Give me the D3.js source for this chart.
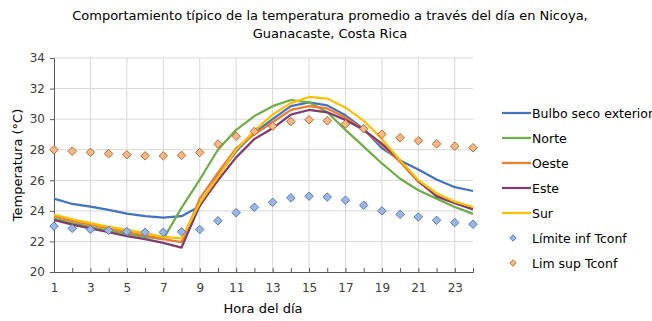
<!DOCTYPE html>
<html><head><meta charset="utf-8">
<script src="https://cdn.jsdelivr.net/npm/d3@7"></script>
<style>body{margin:0;background:#fff}svg{display:block;font-family:"DejaVu Sans",Verdana,sans-serif}</style>
</head><body><svg id="c" width="652" height="321"></svg>
<script>
const hours = d3.range(1, 25);
const xTickLabels = [1,3,5,7,9,11,13,15,17,19,21,23];
const yTickLabels = [20,22,24,26,28,30,32,34];
const bulbo = [24.8,24.45,24.27,24.07,23.82,23.65,23.55,23.65,24.3,26.3,27.9,29.1,30.0,30.85,31.1,30.9,30.25,29.35,28.1,27.3,26.7,26.05,25.55,25.3];
const norte = [23.5,23.2,22.95,22.7,22.5,22.3,22.15,24.2,26.05,28.0,29.3,30.2,30.85,31.25,31.1,30.45,29.3,28.2,27.1,26.1,25.35,24.8,24.25,23.8];
const oeste = [23.65,23.35,23.1,22.85,22.6,22.4,22.15,21.95,24.8,26.5,28.1,29.0,29.8,30.6,30.85,30.7,30.1,29.3,28.3,27.2,25.9,25.05,24.55,24.15];
const este = [23.4,23.1,22.85,22.6,22.35,22.15,21.9,21.6,24.35,26.0,27.5,28.7,29.4,30.3,30.6,30.45,29.95,29.3,28.4,27.3,25.95,24.95,24.5,24.1];
const sur = [23.75,23.45,23.2,22.95,22.75,22.55,22.3,22.2,24.5,26.2,28.0,29.25,30.3,31.05,31.45,31.35,30.75,29.9,28.7,27.3,26.0,25.15,24.6,24.25];
const limInf = [23.0,22.85,22.78,22.72,22.65,22.6,22.6,22.63,22.78,23.35,23.88,24.24,24.56,24.85,24.96,24.9,24.7,24.36,24.0,23.77,23.6,23.38,23.23,23.12];
const limSup = [28.0,27.9,27.83,27.74,27.67,27.6,27.6,27.63,27.82,28.37,28.88,29.2,29.55,29.84,29.96,29.89,29.68,29.37,29.01,28.78,28.59,28.38,28.23,28.13];

const lineSeries = [
  {name:"Bulbo seco exterior", values:bulbo, color:"#4472C4"},
  {name:"Norte", values:norte, color:"#70AD47"},
  {name:"Oeste", values:oeste, color:"#ED7D31"},
  {name:"Este", values:este, color:"#7E3D6E"},
  {name:"Sur", values:sur, color:"#FFC000"}
];
const pointSeries = [
  {name:"Límite inf Tconf", values:limInf, fill:"#9DB5E0", stroke:"#4472C4"},
  {name:"Lim sup Tconf", values:limSup, fill:"#F4B98E", stroke:"#C55A11"}
];

const svg = d3.select("#c");
const x = d3.scaleLinear().domain([1,24]).range([54,473]);
const y = d3.scaleLinear().domain([20,34]).range([272,58]);

// gridlines
svg.append("g").selectAll("line").data(yTickLabels.filter(v=>v>20)).join("line")
  .attr("x1",x(1)).attr("x2",x(24)).attr("y1",d=>y(d)).attr("y2",d=>y(d))
  .attr("stroke","#D9D9D9").attr("stroke-width",1);
svg.append("g").selectAll("line").data(xTickLabels.filter(v=>v>1)).join("line")
  .attr("x1",d=>x(d)).attr("x2",d=>x(d)).attr("y1",y(20)).attr("y2",y(34))
  .attr("stroke","#D9D9D9").attr("stroke-width",1);

// axes
const xAxis = d3.axisBottom(x).tickValues(hours).tickSize(-4).tickFormat(d=>xTickLabels.includes(d)?d:"").tickPadding(11);
const gx = svg.append("g").attr("transform",`translate(0,${y(20)})`).call(xAxis);
gx.select(".domain").attr("stroke","#595959");
gx.selectAll(".tick line").attr("stroke","#595959");
gx.selectAll("text").attr("font-size",12).attr("fill","#404040").attr("font-family","DejaVu Sans, sans-serif");

const yAxis = d3.axisLeft(y).tickValues(yTickLabels).tickSize(4).tickPadding(5);
const gy = svg.append("g").attr("transform",`translate(${x(1)},0)`).call(yAxis);
gy.select(".domain").attr("stroke","#595959");
gy.selectAll(".tick line").attr("stroke","#595959");
gy.selectAll("text").attr("font-size",12).attr("fill","#404040").attr("font-family","DejaVu Sans, sans-serif");

// lines
const line = d3.line().x((d,i)=>x(hours[i])).y(d=>y(d));
lineSeries.forEach(s=>{
  svg.append("path").datum(s.values).attr("d",line)
    .attr("fill","none").attr("stroke",s.color).attr("stroke-width",2.25).attr("stroke-linejoin","round");
});
// diamonds
const diamond = d3.symbol().type(d3.symbolDiamond2).size(46);
pointSeries.forEach(s=>{
  svg.append("g").selectAll("path").data(s.values).join("path")
    .attr("d",diamond)
    .attr("transform",(d,i)=>`translate(${x(hours[i])},${y(d)})`)
    .attr("fill",s.fill).attr("stroke",s.stroke).attr("stroke-width",0.9);
});

// titles
svg.append("text").attr("x",330).attr("y",20).attr("text-anchor","middle").attr("font-size",13).attr("fill","#000")
  .text("Comportamiento típico de la temperatura promedio a través del día en Nicoya,");
svg.append("text").attr("x",330).attr("y",38).attr("text-anchor","middle").attr("font-size",13).attr("fill","#000")
  .text("Guanacaste, Costa Rica");
svg.append("text").attr("x",263).attr("y",313).attr("text-anchor","middle").attr("font-size",13).attr("fill","#000")
  .text("Hora del día");
svg.append("text").attr("transform","translate(22,165) rotate(-90)").attr("text-anchor","middle").attr("font-size",13).attr("fill","#000")
  .text("Temperatura (°C)");

// legend
const legY = d3.scalePoint().domain([...lineSeries, ...pointSeries].map(s=>s.name)).range([113,263]);
lineSeries.forEach(s=>{
  const yy = legY(s.name);
  svg.append("line").attr("x1",502).attr("x2",531).attr("y1",yy).attr("y2",yy).attr("stroke",s.color).attr("stroke-width",2.25);
  svg.append("text").attr("x",532).attr("y",yy+4.5).attr("font-size",12.5).attr("fill","#000").text(s.name);
});
pointSeries.forEach(s=>{
  const yy = legY(s.name);
  svg.append("path").attr("d",d3.symbol().type(d3.symbolDiamond2).size(26)).attr("transform",`translate(513,${yy})`)
    .attr("fill",s.fill).attr("stroke",s.stroke).attr("stroke-width",0.9);
  svg.append("text").attr("x",532).attr("y",yy+4.5).attr("font-size",12.5).attr("fill","#000").text(s.name);
});
</script></body></html>
